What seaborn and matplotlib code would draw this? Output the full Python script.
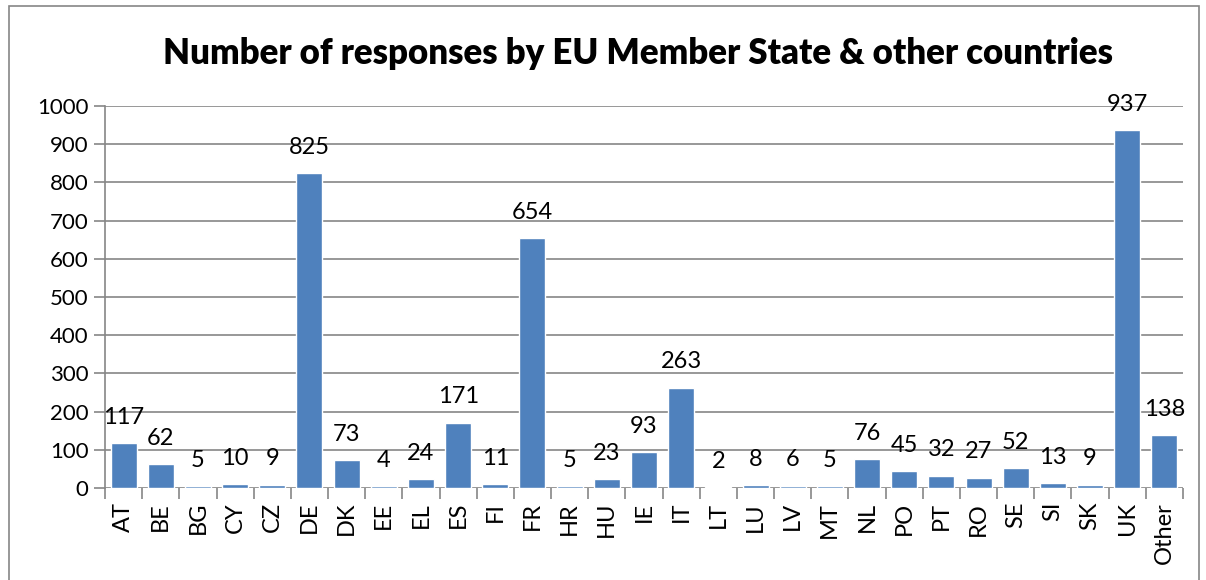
import matplotlib
matplotlib.use("Agg")
import matplotlib.pyplot as plt
import seaborn as sns
import pandas as pd
import numpy as np
from matplotlib.patches import Rectangle

countries = ["AT", "BE", "BG", "CY", "CZ", "DE", "DK", "EE", "EL", "ES", "FI", "FR", "HR", "HU",
             "IE", "IT", "LT", "LU", "LV", "MT", "NL", "PO", "PT", "RO", "SE", "SI", "SK", "UK", "Other"]
responses = [117, 62, 5, 10, 9, 825, 73, 4, 24, 171, 11, 654, 5, 23,
             93, 263, 2, 8, 6, 5, 76, 45, 32, 27, 52, 13, 9, 937, 138]
title = "Number of responses by EU Member State & other countries"

sns.set_theme(style="white")
plt.rcParams["font.family"] = ["Lato", "DejaVu Sans"]
plt.rcParams["text.color"] = "black"

df = pd.DataFrame({"country": countries, "responses": responses})

fig = plt.figure(figsize=(12.06, 5.8), dpi=100)
ax = fig.add_axes([105/1206, 1 - 488/580, (1183-105)/1206, (488-106)/580])

sns.barplot(data=df, x="country", y="responses", color="#4F81BD", saturation=1,
            width=0.7, ax=ax, zorder=3)

ax.set_ylim(0, 1000)
ax.set_xlim(-0.5, len(countries) - 0.5)
ax.set_yticks(np.arange(0, 1001, 100))
ax.yaxis.grid(True, color="#868686", linewidth=1.2, zorder=0)
ax.set_axisbelow(True)
ax.set_xlabel("")
ax.set_ylabel("")
for s in ["top", "right", "bottom"]:
    ax.spines[s].set_visible(False)
ax.spines["left"].set_color("#868686")
ax.spines["left"].set_linewidth(1.2)

ax.tick_params(axis="y", labelsize=16, length=8, color="#868686", width=1.2, left=True, pad=4, labelcolor="black")
ax.set_xticks(range(len(countries)))
ax.set_xticklabels(countries, rotation=90, fontsize=17)
ax.tick_params(axis="x", length=0, pad=10, labelcolor="black")
ax.set_xticks(np.arange(-0.5, len(countries), 1), minor=True)
ax.tick_params(axis="x", which="minor", length=8, color="#868686", width=1.2, bottom=True)

for i, v in enumerate(responses):
    ax.annotate(str(v), (i, v), xytext=(0, 11), textcoords="offset points",
                ha="center", va="bottom", fontsize=17, color="black", zorder=4)

fig.text(638/1206, 1 - 53/580, title, ha="center", va="center", fontsize=25,
         fontweight="heavy", color="black")

fig.patches.append(Rectangle((9/1206, -0.05), (1199-9)/1206, 1 - 6/580 + 0.05,
                             transform=fig.transFigure, fill=False, edgecolor="#868686", linewidth=1.2))

fig.savefig("out.png", dpi=100)
